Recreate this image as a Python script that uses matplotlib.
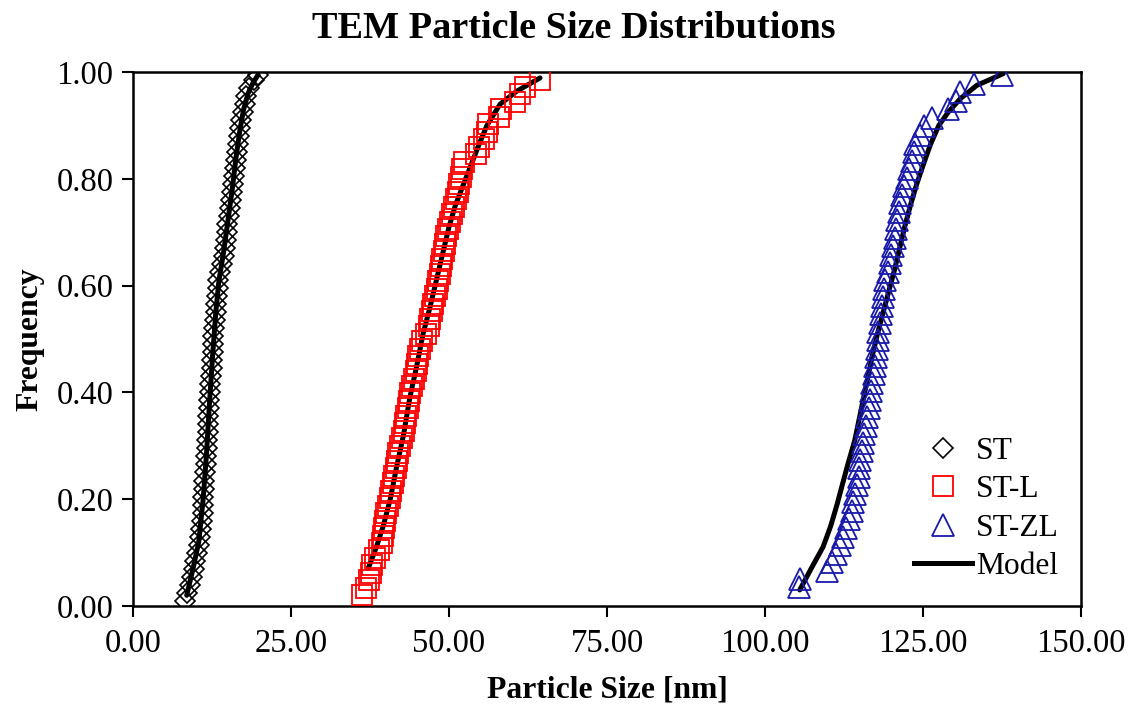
import matplotlib
matplotlib.use("Agg")
import matplotlib.pyplot as plt
from matplotlib.ticker import FormatStrFormatter

# ---------------- data ----------------
st_x = [8.2, 8.6, 9.0, 9.3, 9.6, 9.8, 10.1, 10.4, 10.6, 10.8, 10.9, 11.0, 11.05, 11.1,
        11.2, 11.3, 11.4, 11.5, 11.55, 11.65, 11.7, 11.8, 11.85, 11.9, 12.0, 12.1, 12.2,
        12.25, 12.35, 12.45, 12.5, 12.6, 12.65, 12.7, 12.85, 13.0, 13.1, 13.15, 13.25,
        13.4, 13.5, 13.8, 14.1, 14.35, 14.55, 14.7, 14.85, 14.95, 15.15, 15.3, 15.5,
        15.7, 15.85, 15.95, 16.1, 16.25, 16.4, 16.55, 16.7, 16.9, 17.1, 17.35, 17.65,
        17.95, 18.4, 19.1, 19.8]
st_f = [0.010, 0.025, 0.040, 0.055, 0.070, 0.085, 0.100, 0.115, 0.130, 0.145, 0.160,
        0.175, 0.190, 0.205, 0.220, 0.235, 0.250, 0.265, 0.280, 0.295, 0.310, 0.325,
        0.340, 0.355, 0.370, 0.385, 0.400, 0.415, 0.430, 0.445, 0.460, 0.475, 0.490,
        0.505, 0.520, 0.535, 0.550, 0.565, 0.580, 0.595, 0.610, 0.625, 0.640, 0.655,
        0.670, 0.685, 0.700, 0.715, 0.730, 0.745, 0.760, 0.775, 0.790, 0.805, 0.820,
        0.835, 0.850, 0.865, 0.880, 0.895, 0.910, 0.925, 0.940, 0.955, 0.970, 0.985,
        0.995]

stl_x = [36.2, 36.9, 37.3, 37.6, 37.8, 38.3, 39.0, 39.4, 39.5, 39.7, 39.9, 40.1, 40.4,
         40.7, 40.9, 41.1, 41.35, 41.55, 41.8, 42.0, 42.2, 42.5, 42.8, 43.0, 43.25,
         43.45, 43.7, 43.9, 44.2, 44.45, 44.7, 44.9, 45.15, 45.35, 45.8, 46.3, 46.8,
         47.05, 47.3, 47.5, 47.8, 48.05, 48.3, 48.5, 48.7, 48.95, 49.2, 49.4, 49.6,
         49.9, 50.2, 50.5, 50.8, 51.1, 51.35, 51.6, 51.9, 52.1, 52.3, 54.2, 54.8, 55.5,
         56.0, 56.2, 57.9, 58.3, 60.5, 61.2, 62.0, 64.4]
stl_f = [0.020, 0.034, 0.048, 0.062, 0.076, 0.090, 0.104, 0.118, 0.132, 0.146, 0.160,
         0.174, 0.188, 0.202, 0.216, 0.230, 0.244, 0.258, 0.272, 0.286, 0.300, 0.314,
         0.328, 0.342, 0.356, 0.370, 0.384, 0.398, 0.412, 0.426, 0.440, 0.454, 0.468,
         0.482, 0.496, 0.510, 0.524, 0.538, 0.552, 0.566, 0.580, 0.594, 0.608, 0.622,
         0.636, 0.650, 0.664, 0.678, 0.692, 0.706, 0.720, 0.734, 0.748, 0.762, 0.776,
         0.790, 0.804, 0.818, 0.832, 0.846, 0.860, 0.874, 0.888, 0.902, 0.916, 0.930,
         0.944, 0.958, 0.972, 0.986]

stzl_x = [105.3, 105.5, 109.8, 110.6, 111.3, 111.9, 112.4, 112.85, 113.3, 113.7, 114.0,
          114.3, 114.55, 114.8, 114.95, 115.1, 115.3, 115.5, 115.7, 115.95, 116.2, 116.4,
          116.55, 116.7, 117.0, 117.2, 117.35, 117.55, 117.7, 117.85, 117.95, 118.15,
          118.35, 118.5, 118.65, 118.85, 119.05, 119.45, 119.7, 119.9, 120.2, 120.5,
          120.7, 120.9, 121.15, 121.4, 121.6, 122.0, 122.45, 122.85, 123.2, 123.5, 123.8,
          124.6, 125.2, 126.5, 129.0, 130.2, 130.9, 133.0, 137.5]
stzl_f = [0.035, 0.050, 0.066, 0.082, 0.098, 0.114, 0.130, 0.146, 0.162, 0.178, 0.194,
          0.210, 0.226, 0.242, 0.258, 0.274, 0.290, 0.306, 0.322, 0.338, 0.354, 0.370,
          0.386, 0.402, 0.418, 0.434, 0.450, 0.466, 0.482, 0.498, 0.514, 0.530, 0.546,
          0.562, 0.578, 0.594, 0.610, 0.626, 0.642, 0.658, 0.674, 0.690, 0.706, 0.722,
          0.738, 0.754, 0.770, 0.786, 0.802, 0.818, 0.834, 0.850, 0.866, 0.882, 0.898,
          0.914, 0.930, 0.946, 0.962, 0.978, 0.994]

model_st_x = [8.5, 9.5, 10.4, 11.1, 11.6, 12.1, 12.6, 13.1, 13.6, 14.3, 15.0, 15.7, 16.3,
              16.9, 17.5, 18.2, 19.0, 19.8]
model_st_f = [0.02, 0.07, 0.12, 0.20, 0.28, 0.38, 0.47, 0.55, 0.61, 0.66, 0.72, 0.78,
              0.84, 0.89, 0.93, 0.96, 0.98, 0.995]

model_stl_x = [37.2, 38.5, 39.6, 40.7, 41.7, 42.8, 43.8, 44.9, 45.9, 47.0, 48.0, 49.0,
               50.0, 51.0, 52.3, 53.3, 54.6, 56.0, 58.1, 60.7, 64.4]
model_stl_f = [0.07, 0.11, 0.15, 0.20, 0.26, 0.32, 0.39, 0.45, 0.51, 0.56, 0.61, 0.66,
               0.71, 0.75, 0.79, 0.82, 0.86, 0.90, 0.94, 0.964, 0.989]

model_stzl_x = [105.5, 107.3, 109.2, 110.4, 111.4, 112.3, 113.1, 114.2, 114.9, 115.6,
                116.3, 117.0, 117.8, 118.7, 119.6, 120.5, 121.3, 122.1, 123.0, 124.0,
                125.0, 126.2, 127.5, 129.0, 130.9, 133.5, 137.7]
model_stzl_f = [0.030, 0.070, 0.111, 0.150, 0.190, 0.230, 0.265, 0.310, 0.350, 0.390,
                0.430, 0.470, 0.510, 0.550, 0.590, 0.630, 0.670, 0.710, 0.750, 0.790,
                0.825, 0.865, 0.900, 0.925, 0.950, 0.975, 0.997]

x_ticks = [0, 25, 50, 75, 100, 125, 150]
y_ticks = [0.0, 0.2, 0.4, 0.6, 0.8, 1.0]

# ---------------- plot ----------------
plt.rcParams['font.family'] = ['Liberation Serif', 'DejaVu Serif']

fig = plt.figure(figsize=(11.31, 7.09), dpi=100)
ax = fig.add_axes([0.1176, 0.1453, 0.8382, 0.7531])

blue = '#1A1AAA'
lw_model = 3.6

ax.plot(model_st_x, model_st_f, color='black', lw=lw_model, zorder=2, solid_capstyle='round')
ax.plot(model_stl_x, model_stl_f, color='black', lw=lw_model, zorder=2, solid_capstyle='round')
ax.plot(model_stzl_x, model_stzl_f, color='black', lw=lw_model, zorder=2,
        solid_capstyle='round')

ax.plot(st_x, st_f, ls='none', marker='D', ms=10.5, mfc='none', mec='black', mew=1.2,
        zorder=3, label='ST')
ax.plot(stl_x, stl_f, ls='none', marker='s', ms=14.5, mfc='none', mec='#FF0000', mew=1.3,
        zorder=3, label='ST-L')
ax.plot(stzl_x, stzl_f, ls='none', marker='^', ms=15.5, mfc='none', mec=blue, mew=1.3,
        zorder=3, label='ST-ZL')
ax.plot([], [], color='black', lw=lw_model, label='Model')

ax.set_xlim(0, 150)
ax.set_ylim(0, 1.0)
ax.set_xticks(x_ticks)
ax.set_yticks(y_ticks)
ax.xaxis.set_major_formatter(FormatStrFormatter('%.2f'))
ax.yaxis.set_major_formatter(FormatStrFormatter('%.2f'))
ax.tick_params(axis='both', direction='out', length=8, width=1.5, labelsize=23.5)
ax.tick_params(axis='x', pad=8)
ax.tick_params(axis='y', pad=6)
for s in ax.spines.values():
    s.set_linewidth(1.8)

ax.set_xlabel('Particle Size [nm]', fontsize=22.8, fontweight='bold', labelpad=12)
ax.set_ylabel('Frequency', fontsize=22.8, fontweight='bold', labelpad=9)
fig.text(574 / 1131, 1 - 28 / 709, 'TEM Particle Size Distributions', fontsize=27.5,
         fontweight='bold', ha='center', va='center')

leg = ax.legend(loc='lower right', bbox_to_anchor=(1.0, 0.005), frameon=False,
                fontsize=22.7, handlelength=1.85, handletextpad=0.12, labelspacing=0.3,
                borderaxespad=0.3)

fig.savefig('out.png', dpi=100)
